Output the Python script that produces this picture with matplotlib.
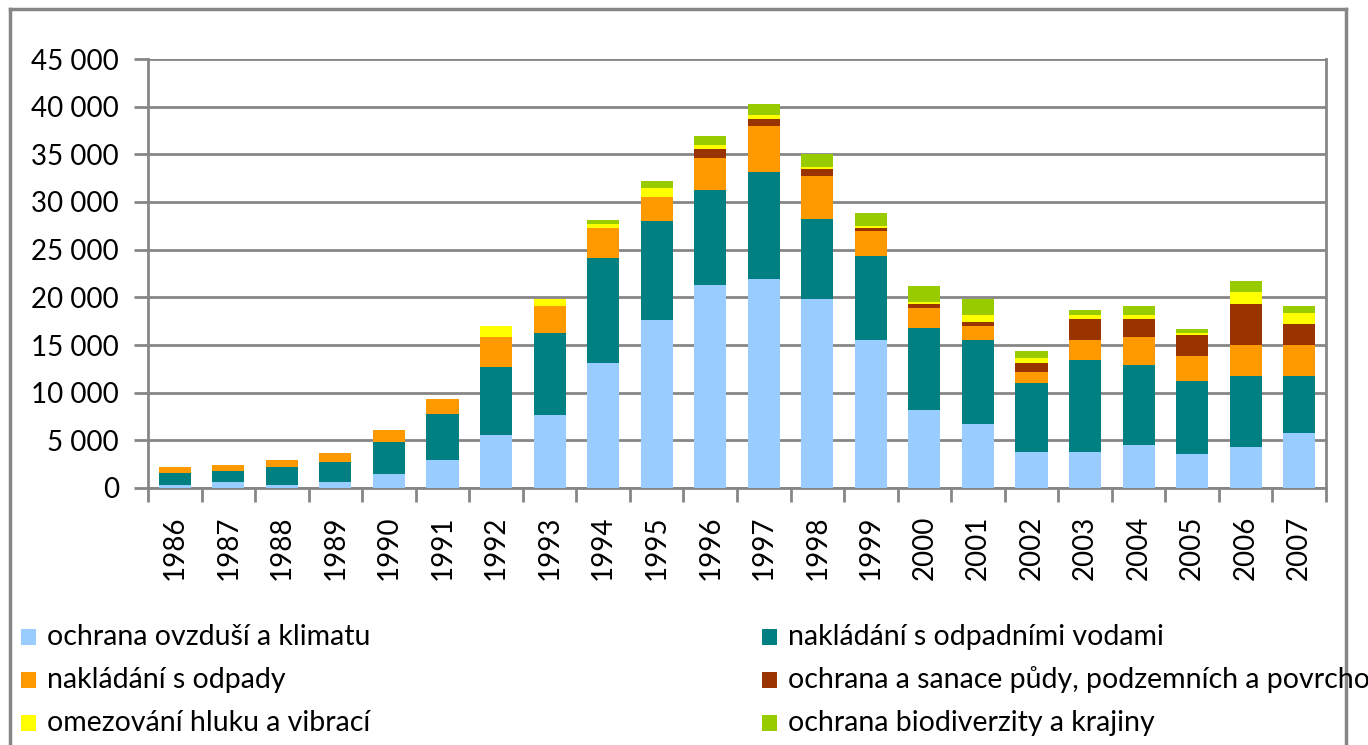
import matplotlib
matplotlib.use("Agg")
import matplotlib.pyplot as plt
import numpy as np
from matplotlib.patches import Rectangle
from matplotlib.lines import Line2D
from matplotlib.ticker import FuncFormatter, FixedLocator

plt.rcParams['font.family'] = ['Lato', 'DejaVu Sans']

years = [str(y) for y in range(1986, 2008)]
air = [350, 590, 340, 590, 1520, 2920, 5590, 7680, 13130, 17650, 21260, 21960,
       19840, 15530, 8130, 6710, 3820, 3820, 4550, 3580, 4310, 5730]
water = [1210, 1180, 1910, 2150, 3340, 4820, 7150, 8580, 11010, 10320, 10040, 11220,
         8340, 8820, 8620, 8830, 7190, 9560, 8370, 7640, 7400, 5980]
waste = [630, 660, 700, 900, 1180, 1640, 3060, 2850, 3130, 2600, 3300, 4750,
         4510, 2640, 2110, 1420, 1180, 2160, 2870, 2640, 3340, 3340]
soil = [0, 0, 0, 0, 0, 0, 0, 0, 0, 0, 930, 730,
        730, 280, 490, 440, 940, 2140, 1890, 2150, 4270, 2200]
noise = [0, 0, 0, 0, 0, 0, 1220, 690, 420, 900, 460, 460,
         210, 170, 210, 700, 460, 450, 450, 240, 1210, 1130]
bio = [0, 0, 0, 0, 0, 0, 0, 0, 440, 700, 940, 1170,
       1380, 1390, 1630, 1700, 730, 490, 980, 460, 1180, 730]

series_labels = [
    "ochrana ovzduší a klimatu",
    "nakládání s odpadními vodami",
    "nakládání s odpady",
    "ochrana a sanace půdy, podzemních a povrchových vod",
    "omezování hluku a vibrací",
    "ochrana biodiverzity a krajiny",
]
colors = ["#99CCFF", "#008080", "#FF9900", "#993300", "#FFFF00", "#99CC00"]
yticks = [0, 5000, 10000, 15000, 20000, 25000, 30000, 35000, 40000, 45000]

W, H = 1368, 745
fig = plt.figure(figsize=(W / 100, H / 100), dpi=100)
ax = fig.add_axes([148 / W, 1 - 488 / H, (1326 - 148) / W, (488 - 59) / H])

x = np.arange(len(years))
bottom = np.zeros(len(years))
for vals, col, lab in zip([air, water, waste, soil, noise, bio], colors, series_labels):
    v = np.array(vals, dtype=float)
    ax.bar(x, v, 0.6, bottom=bottom, color=col, label=lab, edgecolor='none', zorder=3)
    bottom += v

ax.set_xlim(-0.5, len(years) - 0.5)
ax.set_ylim(0, 45000)
ax.yaxis.set_major_locator(FixedLocator(yticks))
ax.yaxis.set_major_formatter(FuncFormatter(lambda v, p: f"{int(v):,}".replace(",", " ")))
ax.grid(axis='y', color='#868686', linewidth=2, zorder=0)
ax.set_axisbelow(True)

ax.spines['top'].set_visible(False)
for s in ['left', 'bottom', 'right']:
    ax.spines[s].set_color('#868686')
    ax.spines[s].set_linewidth(2)

ax.set_xticks(x)
ax.set_xticklabels(years, rotation=90, fontsize=20)
ax.tick_params(axis='x', which='major', length=0, pad=20)
ax.set_xticks(np.arange(-0.5, len(years), 1), minor=True)
ax.tick_params(axis='x', which='minor', length=10, width=2, color='#868686', direction='out')
ax.tick_params(axis='y', length=10, width=2, color='#868686', direction='out', labelsize=20, pad=11)
for t in ax.get_xticklabels() + ax.get_yticklabels():
    t.set_color('black')

# outer chart frame (top, left, right)
fig.add_artist(Line2D([10 / W, 10 / W], [0, 1 - 9 / H], transform=fig.transFigure, color='#868686', lw=2.5))
fig.add_artist(Line2D([10 / W, 1346 / W], [1 - 9 / H, 1 - 9 / H], transform=fig.transFigure, color='#868686', lw=2.5))
fig.add_artist(Line2D([1346 / W, 1346 / W], [0, 1 - 9 / H], transform=fig.transFigure, color='#868686', lw=2.5))

# legend: two columns, three rows
col_x = [21, 762]
row_y = [637, 680, 723]
for i in range(6):
    c = i % 2
    r = i // 2
    mx, my = col_x[c], row_y[r]
    fig.add_artist(Rectangle((mx / W, 1 - (my + 8) / H), 15 / W, 16 / H,
                             transform=fig.transFigure, facecolor=colors[i], edgecolor='none'))
    fig.text((mx + 26) / W, 1 - my / H, series_labels[i], fontsize=20.5,
             va='center', ha='left', color='black')

fig.savefig("out.png", dpi=100)
